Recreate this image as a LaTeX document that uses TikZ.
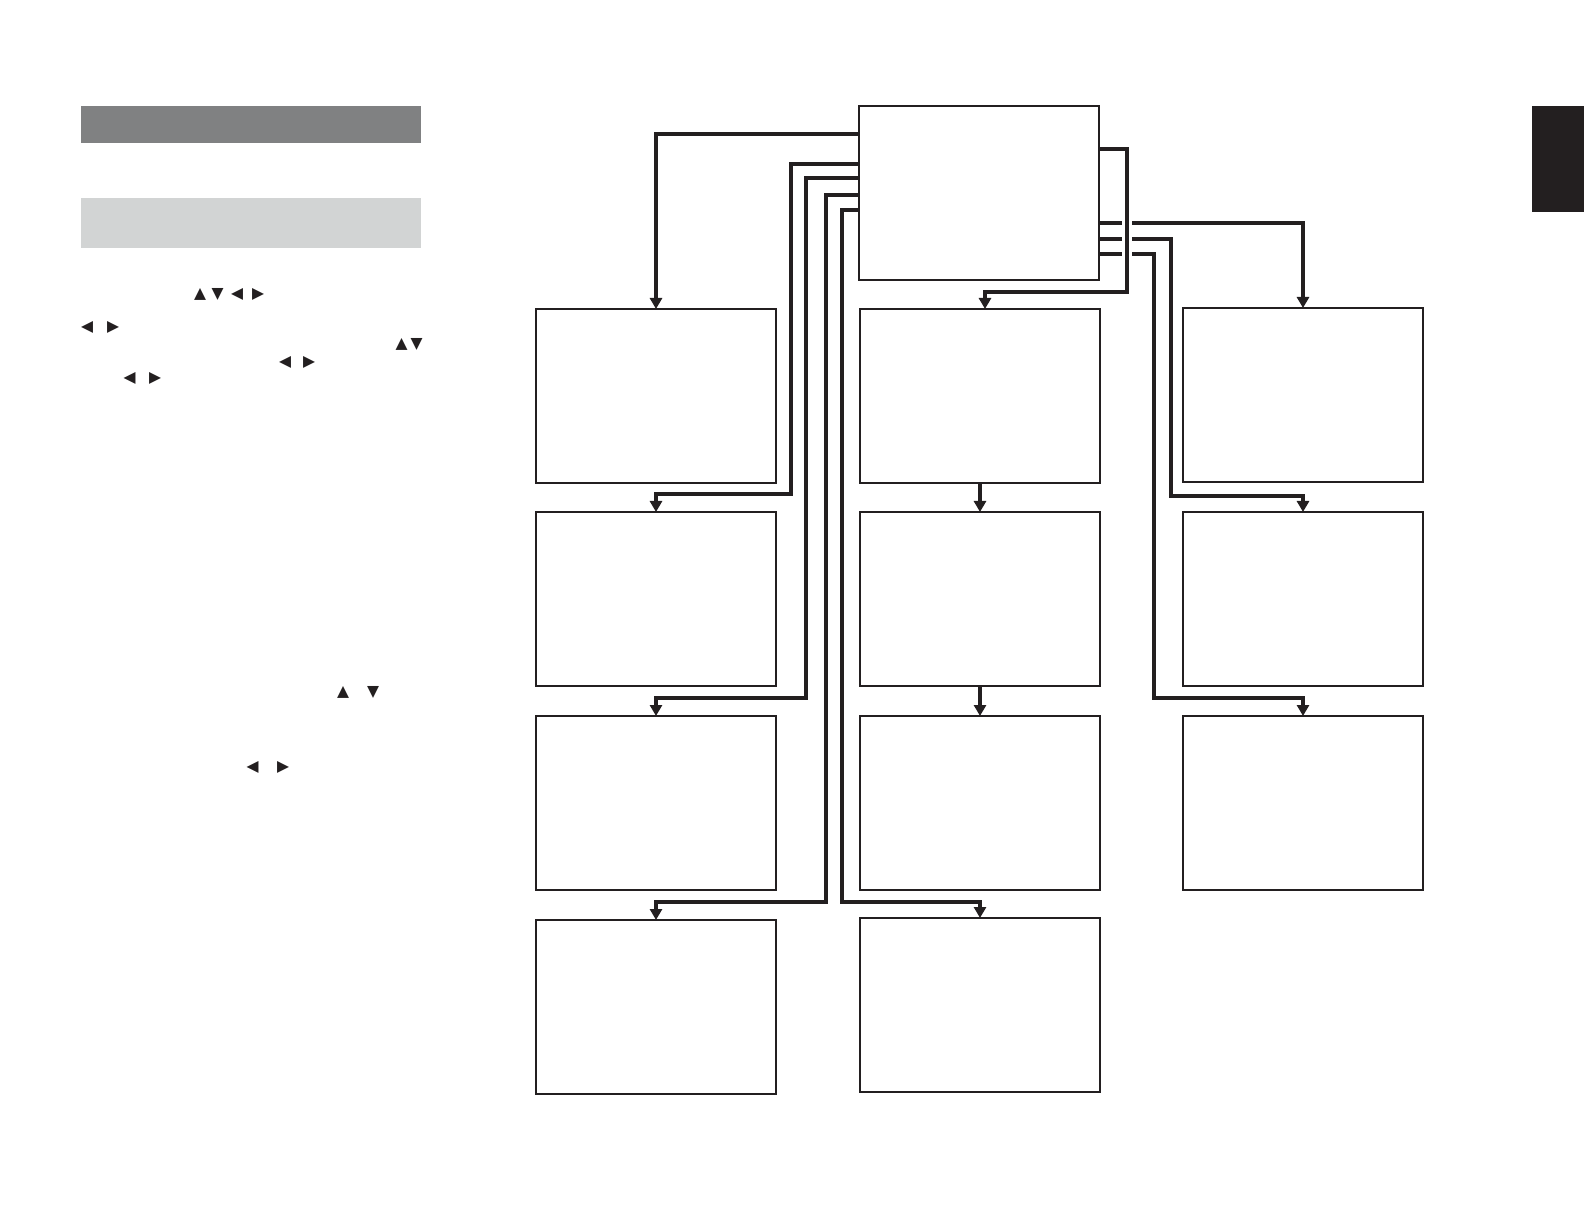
\documentclass[tikz,border=0pt]{standalone}
\usepackage{fontspec}
\newfontfamily\symfont{DejaVu Sans}
\usetikzlibrary{arrows.meta,calc}
\definecolor{ink}{HTML}{231F20}
\definecolor{darkbar}{HTML}{808182}
\definecolor{lightbar}{HTML}{D2D4D4}
\tikzset{
  box/.style={draw=ink, line width=0.55pt, fill=white, inner sep=0pt, outer sep=0pt,
    minimum width=120pt, minimum height=87pt, anchor=north west},
  conn/.style={draw=ink, line width=1.7pt, -{Triangle[width=6pt,length=5.5pt]}},
  seg/.style={draw=ink, line width=1.7pt},
  glyph/.style={inner sep=0pt, text=ink, font=\symfont\fontsize{7.8}{8}\selectfont}
}
\begin{document}
\begin{tikzpicture}[x=0.5pt,y=-0.5pt]
\useasboundingbox (0,0) rectangle (1584,1224);
% left column bars and tab
\fill[darkbar] (81,106) rectangle (421,143);
\fill[lightbar] (81,198) rectangle (421,248);
\fill[ink] (1532,106) rectangle (1584,212);
% glyphs in text
\node[glyph] (g1) at (200,294) {▲};
\node[glyph] (g2) at (217.5,294) {▼};
\node[glyph] (g3) at (237,294) {◀};
\node[glyph] (g4) at (258,294) {▶};
\node[glyph] (g5) at (87,327) {◀};
\node[glyph] (g6) at (113,327) {▶};
\node[glyph] (g7) at (401.5,344) {▲};
\node[glyph] (g8) at (416.5,344) {▼};
\node[glyph] (g9) at (285,362) {◀};
\node[glyph] (g10) at (309,362) {▶};
\node[glyph] (g11) at (129.5,378) {◀};
\node[glyph] (g12) at (155,378) {▶};
\node[glyph] (g13) at (343,692) {▲};
\node[glyph] (g14) at (373,692) {▼};
\node[glyph] (g15) at (252.5,767) {◀};
\node[glyph] (g16) at (283,767) {▶};
% boxes
\node[box] (top) at (859,106) {};
\node[box] (c1a) at (536,309) {};
\node[box] (c1b) at (536,512) {};
\node[box] (c1c) at (536,716) {};
\node[box] (c1d) at (536,920) {};
\node[box] (c2a) at (860,309) {};
\node[box] (c2b) at (860,512) {};
\node[box] (c2c) at (860,716) {};
\node[box] (c2d) at (860,918) {};
\node[box] (c3a) at (1183,308) {};
\node[box] (c3b) at (1183,512) {};
\node[box] (c3c) at (1183,716) {};
% left connectors
\draw[conn] ($(top.north west)+(0,28)$) -| (c1a.north);
\draw[conn] ($(top.north west)+(0,58)$) -| (791,494) -| (c1b.north);
\draw[conn] ($(top.north west)+(0,72)$) -| (806,698) -| (c1c.north);
\draw[conn] ($(top.north west)+(0,89)$) -| (826,902) -| (c1d.north);
\draw[conn] ($(top.north west)+(0,104)$) -| (842,902) -| (c2d.north);
% right connectors
\draw[conn] ($(top.north east)+(0,43)$) -| (1127,292) -| ([xshift=2.5pt]c2a.north);
\draw[seg] ($(top.north east)+(0,117)$) -- (1122,223);
\draw[conn] (1132,223) -| (c3a.north);
\draw[seg] ($(top.north east)+(0,133)$) -- (1122,239);
\draw[conn] (1132,239) -| (1171,496) -| (c3b.north);
\draw[seg] ($(top.north east)+(0,148)$) -- (1122,254);
\draw[conn] (1132,254) -| (1154,698) -| (c3c.north);
% column 2 straight arrows
\draw[conn] (c2a.south) -- (c2b.north);
\draw[conn] (c2b.south) -- (c2c.north);
\end{tikzpicture}
\end{document}
